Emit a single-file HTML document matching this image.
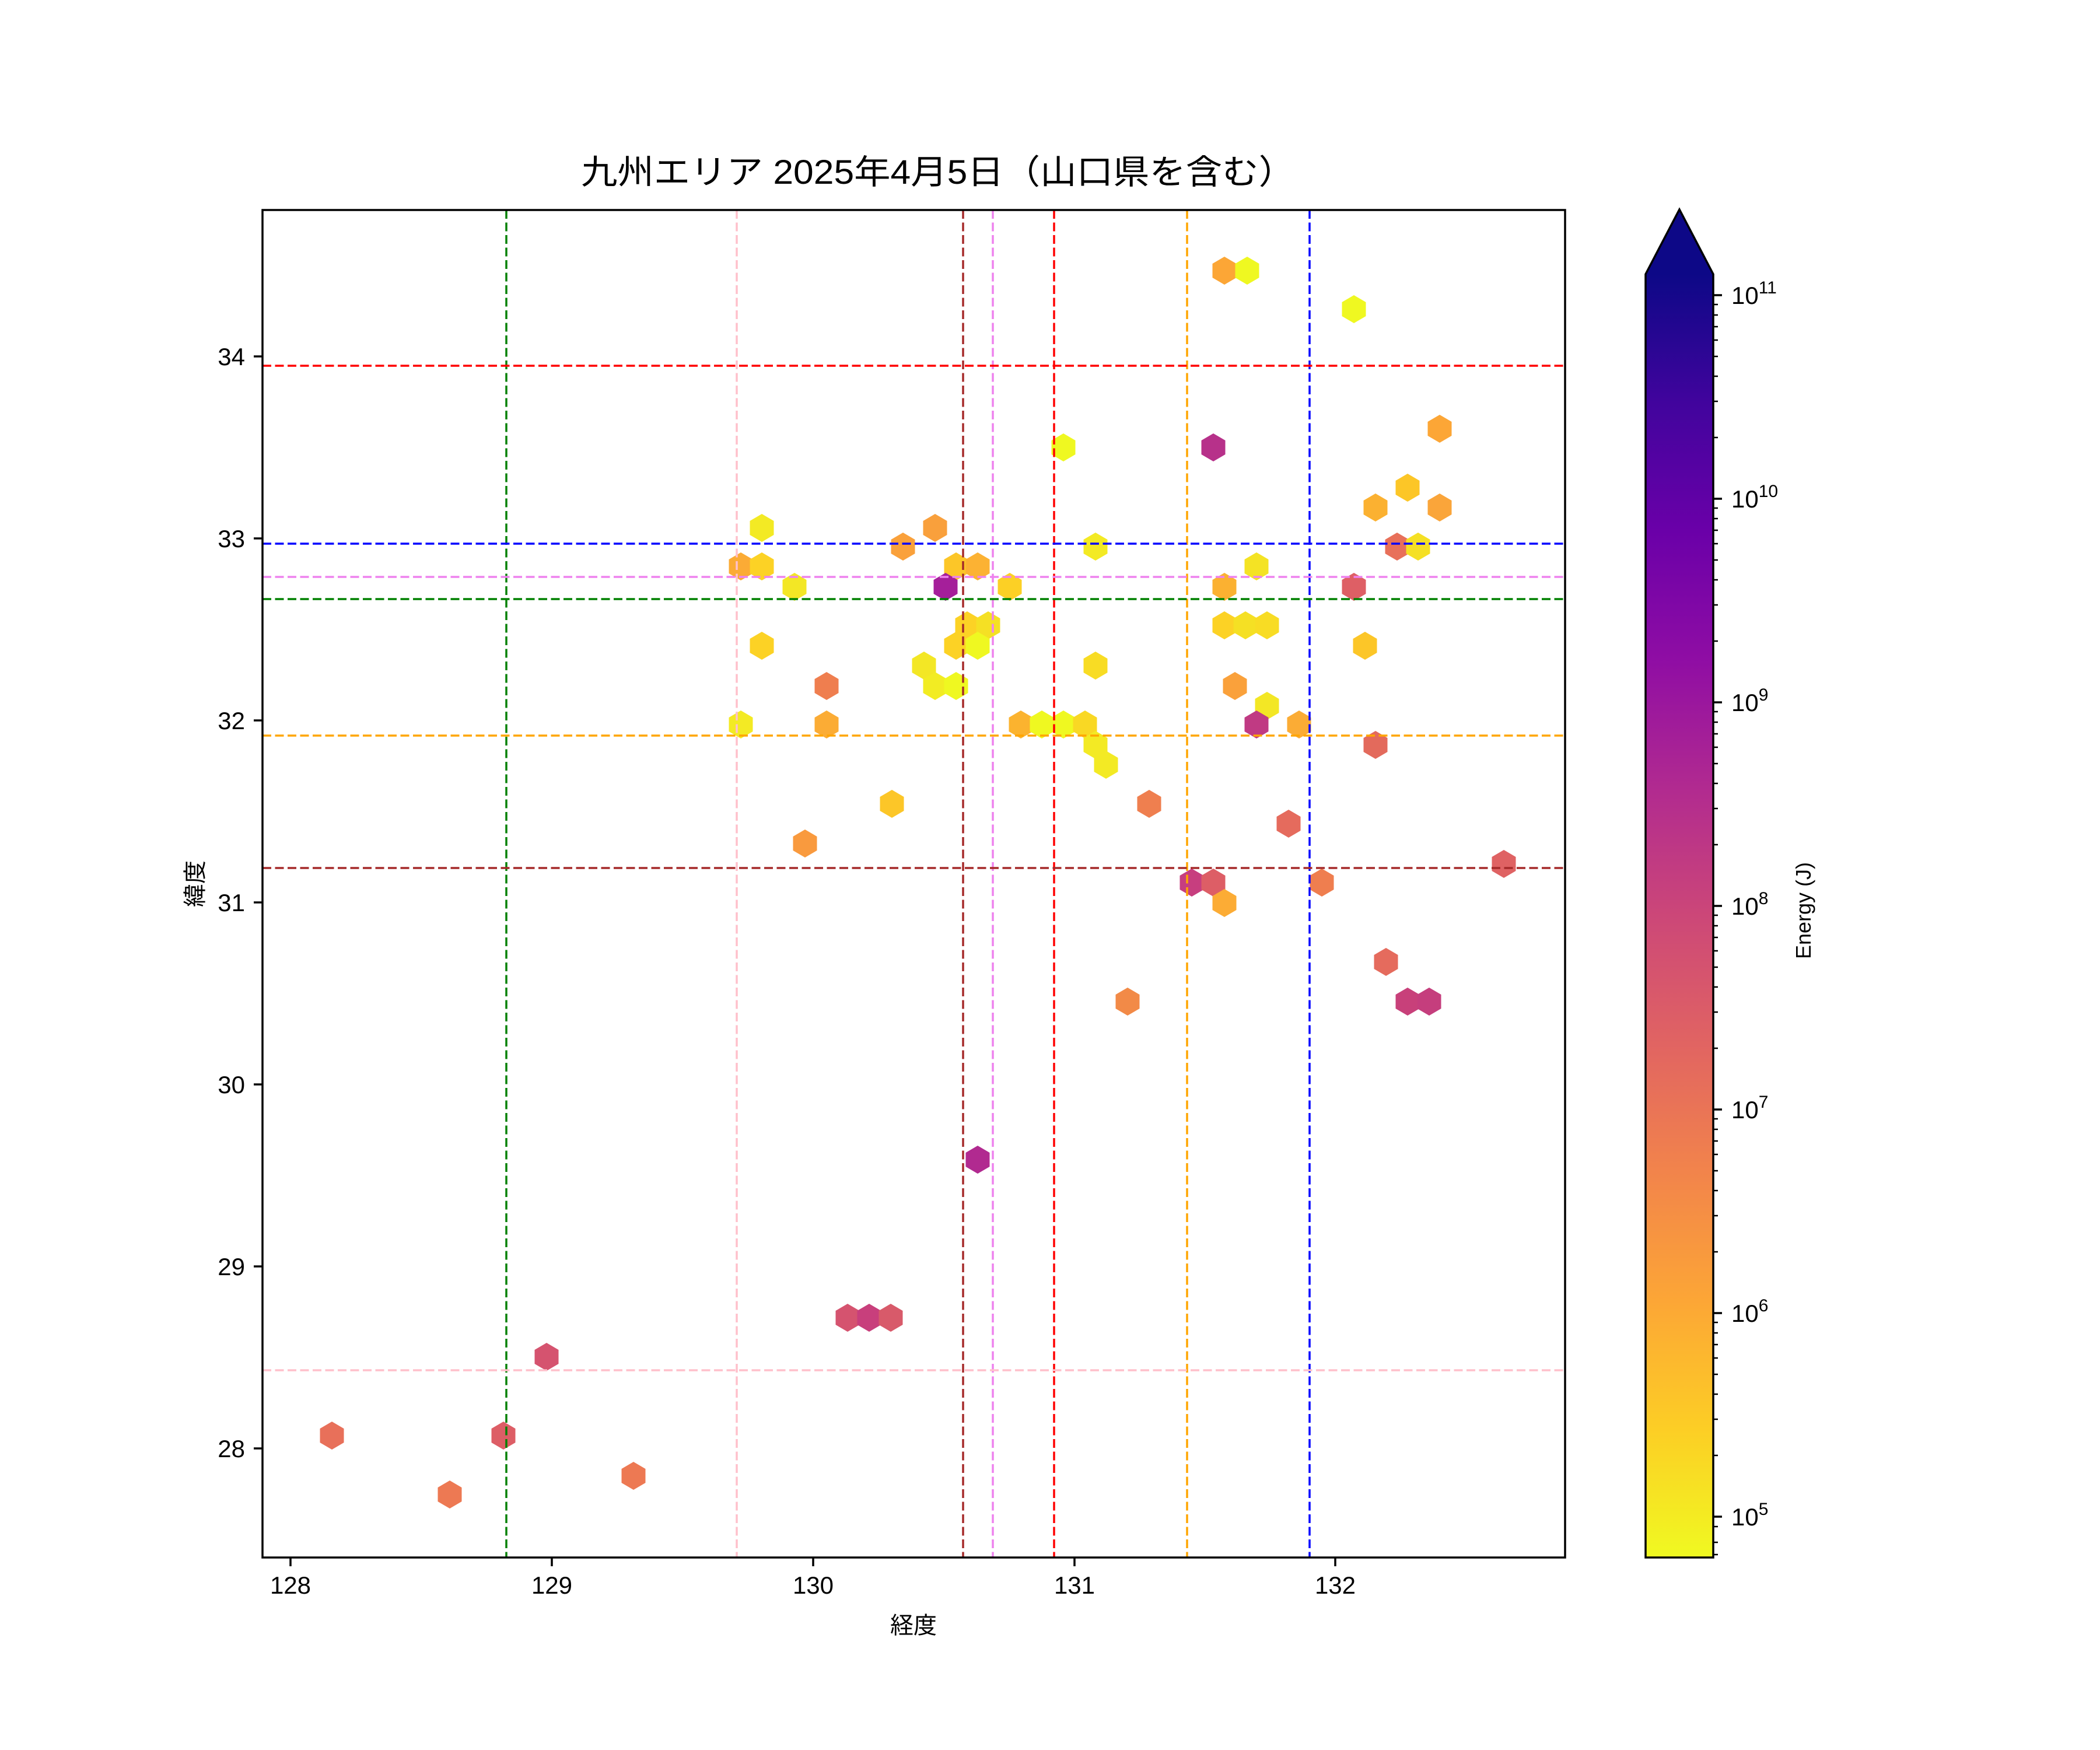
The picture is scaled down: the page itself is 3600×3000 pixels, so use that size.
<!DOCTYPE html>
<html><head><meta charset="utf-8"><style>html,body{margin:0;padding:0;background:#fff}svg{display:block}</style></head>
<body>
<svg xmlns="http://www.w3.org/2000/svg" width="3600" height="3000" viewBox="0 0 3600 3000" font-family="'Liberation Sans','Noto Sans CJK JP',sans-serif">
<defs>
<polygon id="h" points="0,-24 20.5,-12 20.5,12 0,24 -20.5,12 -20.5,-12"/>
<linearGradient id="pl" x1="0" y1="1" x2="0" y2="0">
<stop offset="0" stop-color="#f0f921"/><stop offset="0.1" stop-color="#fcce25"/><stop offset="0.2" stop-color="#fca636"/><stop offset="0.3" stop-color="#f2844b"/><stop offset="0.4" stop-color="#e16462"/><stop offset="0.5" stop-color="#cc4778"/><stop offset="0.6" stop-color="#b12a90"/><stop offset="0.7" stop-color="#8f0da4"/><stop offset="0.8" stop-color="#6a00a8"/><stop offset="0.9" stop-color="#41049d"/><stop offset="1" stop-color="#0d0887"/>
</linearGradient>
<clipPath id="cp"><rect x="450" y="360" width="2233" height="2310"/></clipPath>
</defs>
<rect width="3600" height="3000" fill="#fff"/>
<text x="996" y="315" font-size="58" textLength="1224" lengthAdjust="spacingAndGlyphs">九州エリア 2025年4月5日（山口県を含む）</text>

<g clip-path="url(#cp)">
<g>
<use href="#h" x="2099" y="464" fill="#fca636"/><use href="#h" x="2138" y="464" fill="#eff821"/>
<use href="#h" x="2321" y="530" fill="#eff821"/>
<use href="#h" x="2468" y="735" fill="#fca636"/>
<use href="#h" x="1823" y="767" fill="#eff821"/><use href="#h" x="2080" y="767" fill="#b7318a"/>
<use href="#h" x="1306" y="905" fill="#f3ea24"/><use href="#h" x="1603" y="905" fill="#f9a03c"/>
<use href="#h" x="2358" y="870" fill="#fbb131"/><use href="#h" x="2413" y="836" fill="#fcc627"/><use href="#h" x="2468" y="870" fill="#faa53a"/>
<use href="#h" x="1548" y="937" fill="#faa13b"/><use href="#h" x="1878" y="937" fill="#f3ea24"/><use href="#h" x="2395" y="937" fill="#e8705a"/><use href="#h" x="2431" y="937" fill="#f5e024"/>
<use href="#h" x="1270" y="971" fill="#fbab35"/><use href="#h" x="1306" y="971" fill="#fcd225"/><use href="#h" x="1639" y="971" fill="#fcc628"/><use href="#h" x="1676" y="971" fill="#fcb233"/><use href="#h" x="2154" y="971" fill="#f4e324"/>
<use href="#h" x="1362" y="1006" fill="#f3e725"/><use href="#h" x="1621" y="1006" fill="#a51f9a"/><use href="#h" x="1731" y="1006" fill="#fcd025"/><use href="#h" x="2099" y="1006" fill="#fbb131"/><use href="#h" x="2321" y="1006" fill="#de5f65"/>
<use href="#h" x="1658" y="1072" fill="#fcd225"/><use href="#h" x="1694" y="1072" fill="#f5e024"/><use href="#h" x="2099" y="1072" fill="#fcd225"/><use href="#h" x="2135" y="1072" fill="#f5e024"/><use href="#h" x="2172" y="1072" fill="#f8dc24"/>
<use href="#h" x="1306" y="1107" fill="#fcd225"/><use href="#h" x="1639" y="1107" fill="#fcd225"/><use href="#h" x="1676" y="1107" fill="#eff821"/><use href="#h" x="2340" y="1107" fill="#fcc628"/>
<use href="#h" x="1584" y="1141" fill="#f3e725"/><use href="#h" x="1878" y="1141" fill="#f8dc24"/>
<use href="#h" x="1417" y="1176" fill="#ef7e4f"/><use href="#h" x="1603" y="1176" fill="#f2ec23"/><use href="#h" x="1639" y="1176" fill="#eff821"/><use href="#h" x="2117" y="1176" fill="#faa13b"/>
<use href="#h" x="2172" y="1210" fill="#f3e725"/>
<use href="#h" x="1270" y="1242" fill="#f3ea24"/><use href="#h" x="1417" y="1242" fill="#fbac35"/><use href="#h" x="1750" y="1242" fill="#fbb32f"/><use href="#h" x="1786" y="1242" fill="#eff821"/><use href="#h" x="1823" y="1242" fill="#eff821"/><use href="#h" x="1860" y="1242" fill="#f9d824"/><use href="#h" x="2154" y="1242" fill="#c03a83"/><use href="#h" x="2227" y="1242" fill="#fbac35"/>
<use href="#h" x="1878" y="1277" fill="#f3ea24"/><use href="#h" x="2358" y="1277" fill="#e36a5c"/>
<use href="#h" x="1896" y="1311" fill="#f3ea24"/>
<use href="#h" x="1529" y="1378" fill="#fcc628"/><use href="#h" x="1970" y="1378" fill="#ef7f4f"/>
<use href="#h" x="1380" y="1446" fill="#f99a3e"/>
<use href="#h" x="2209" y="1412" fill="#e56b5d"/>
<use href="#h" x="2043" y="1513" fill="#c73e7f"/><use href="#h" x="2080" y="1513" fill="#dd5e66"/><use href="#h" x="2266" y="1513" fill="#ef7e4f"/>
<use href="#h" x="2578" y="1481" fill="#df6263"/>
<use href="#h" x="2099" y="1548" fill="#fcac35"/>
<use href="#h" x="2376" y="1649" fill="#e56b5d"/>
<use href="#h" x="1933" y="1717" fill="#f28a47"/><use href="#h" x="2413" y="1717" fill="#c8407a"/><use href="#h" x="2450" y="1717" fill="#c53e7d"/>
<use href="#h" x="1676" y="1988" fill="#b12a90"/>
<use href="#h" x="1453" y="2259" fill="#d5536f"/><use href="#h" x="1490" y="2259" fill="#c83f7c"/><use href="#h" x="1527" y="2259" fill="#d85a6a"/>
<use href="#h" x="937" y="2326" fill="#d5536f"/>
<use href="#h" x="569" y="2461" fill="#e8705a"/><use href="#h" x="863" y="2461" fill="#dd5e66"/>
<use href="#h" x="1086" y="2530" fill="#ed7953"/>
<use href="#h" x="771" y="2562" fill="#ed7953"/>
</g>
<g stroke-width="3.5" stroke-dasharray="15 6.5" fill="none">
<line x1="868" y1="360" x2="868" y2="2670" stroke="#008000"/>
<line x1="1263" y1="360" x2="1263" y2="2670" stroke="#ffc0cb"/>
<line x1="1651" y1="360" x2="1651" y2="2670" stroke="#a52a2a"/>
<line x1="1702" y1="360" x2="1702" y2="2670" stroke="#ee82ee"/>
<line x1="1807" y1="360" x2="1807" y2="2670" stroke="#ff0000"/>
<line x1="2035" y1="360" x2="2035" y2="2670" stroke="#ffa500"/>
<line x1="2245" y1="360" x2="2245" y2="2670" stroke="#0000ff"/>
<line x1="450" y1="627" x2="2683" y2="627" stroke="#ff0000"/>
<line x1="450" y1="932" x2="2683" y2="932" stroke="#0000ff"/>
<line x1="450" y1="989" x2="2683" y2="989" stroke="#ee82ee"/>
<line x1="450" y1="1027" x2="2683" y2="1027" stroke="#008000"/>
<line x1="450" y1="1261" x2="2683" y2="1261" stroke="#ffa500"/>
<line x1="450" y1="1488" x2="2683" y2="1488" stroke="#a52a2a"/>
<line x1="450" y1="2349" x2="2683" y2="2349" stroke="#ffc0cb"/>
</g>
</g>
<rect x="450" y="360" width="2233" height="2310" fill="none" stroke="#000" stroke-width="3.5"/>

<g stroke="#000" stroke-width="3.5">
<line x1="498" y1="2670" x2="498" y2="2685"/><line x1="946" y1="2670" x2="946" y2="2685"/><line x1="1394" y1="2670" x2="1394" y2="2685"/><line x1="1842" y1="2670" x2="1842" y2="2685"/><line x1="2289" y1="2670" x2="2289" y2="2685"/>
<line x1="435" y1="611" x2="450" y2="611"/><line x1="435" y1="923" x2="450" y2="923"/><line x1="435" y1="1235" x2="450" y2="1235"/><line x1="435" y1="1547" x2="450" y2="1547"/><line x1="435" y1="1859" x2="450" y2="1859"/><line x1="435" y1="2171" x2="450" y2="2171"/><line x1="435" y1="2483" x2="450" y2="2483"/>
</g>
<g font-size="42" text-anchor="middle">
<text x="498" y="2732">128</text><text x="946" y="2732">129</text><text x="1394" y="2732">130</text><text x="1842" y="2732">131</text><text x="2289" y="2732">132</text>
</g>
<g font-size="42" text-anchor="end">
<text x="420" y="626">34</text><text x="420" y="938">33</text><text x="420" y="1250">32</text><text x="420" y="1562">31</text><text x="420" y="1874">30</text><text x="420" y="2186">29</text><text x="420" y="2498">28</text>
</g>
<text x="1566" y="2800" font-size="40" text-anchor="middle">経度</text>
<text transform="translate(348,1515) rotate(-90)" font-size="40" text-anchor="middle">緯度</text>

<rect x="2821" y="470" width="116" height="2200" fill="url(#pl)"/>
<polygon points="2821,470 2879,359 2937,470" fill="#0d0887"/>
<polygon points="2821,2670 2821,470 2879,359 2937,470 2937,2670" fill="none" stroke="#000" stroke-width="3.5"/>
<g stroke="#000" stroke-width="3.5">
<line x1="2937" y1="2600" x2="2952" y2="2600"/><line x1="2937" y1="2251" x2="2952" y2="2251"/><line x1="2937" y1="1902" x2="2952" y2="1902"/><line x1="2937" y1="1553" x2="2952" y2="1553"/><line x1="2937" y1="1204" x2="2952" y2="1204"/><line x1="2937" y1="855" x2="2952" y2="855"/><line x1="2937" y1="506" x2="2952" y2="506"/>
</g>
<g stroke="#000" stroke-width="2.5">
<line x1="2937" y1="2665" x2="2945" y2="2665"/><line x1="2937" y1="2644" x2="2945" y2="2644"/><line x1="2937" y1="2617" x2="2945" y2="2617"/>
<line x1="2937" y1="2495" x2="2945" y2="2495"/><line x1="2937" y1="2433" x2="2945" y2="2433"/><line x1="2937" y1="2390" x2="2945" y2="2390"/><line x1="2937" y1="2356" x2="2945" y2="2356"/><line x1="2937" y1="2328" x2="2945" y2="2328"/><line x1="2937" y1="2305" x2="2945" y2="2305"/><line x1="2937" y1="2285" x2="2945" y2="2285"/><line x1="2937" y1="2267" x2="2945" y2="2267"/>
<line x1="2937" y1="2146" x2="2945" y2="2146"/><line x1="2937" y1="2084" x2="2945" y2="2084"/><line x1="2937" y1="2041" x2="2945" y2="2041"/><line x1="2937" y1="2007" x2="2945" y2="2007"/><line x1="2937" y1="1979" x2="2945" y2="1979"/><line x1="2937" y1="1956" x2="2945" y2="1956"/><line x1="2937" y1="1936" x2="2945" y2="1936"/><line x1="2937" y1="1918" x2="2945" y2="1918"/>
<line x1="2937" y1="1797" x2="2945" y2="1797"/><line x1="2937" y1="1735" x2="2945" y2="1735"/><line x1="2937" y1="1692" x2="2945" y2="1692"/><line x1="2937" y1="1658" x2="2945" y2="1658"/><line x1="2937" y1="1630" x2="2945" y2="1630"/><line x1="2937" y1="1607" x2="2945" y2="1607"/><line x1="2937" y1="1587" x2="2945" y2="1587"/><line x1="2937" y1="1569" x2="2945" y2="1569"/>
<line x1="2937" y1="1448" x2="2945" y2="1448"/><line x1="2937" y1="1386" x2="2945" y2="1386"/><line x1="2937" y1="1343" x2="2945" y2="1343"/><line x1="2937" y1="1309" x2="2945" y2="1309"/><line x1="2937" y1="1281" x2="2945" y2="1281"/><line x1="2937" y1="1258" x2="2945" y2="1258"/><line x1="2937" y1="1238" x2="2945" y2="1238"/><line x1="2937" y1="1220" x2="2945" y2="1220"/>
<line x1="2937" y1="1099" x2="2945" y2="1099"/><line x1="2937" y1="1037" x2="2945" y2="1037"/><line x1="2937" y1="994" x2="2945" y2="994"/><line x1="2937" y1="960" x2="2945" y2="960"/><line x1="2937" y1="932" x2="2945" y2="932"/><line x1="2937" y1="909" x2="2945" y2="909"/><line x1="2937" y1="889" x2="2945" y2="889"/><line x1="2937" y1="871" x2="2945" y2="871"/>
<line x1="2937" y1="750" x2="2945" y2="750"/><line x1="2937" y1="688" x2="2945" y2="688"/><line x1="2937" y1="645" x2="2945" y2="645"/><line x1="2937" y1="611" x2="2945" y2="611"/><line x1="2937" y1="583" x2="2945" y2="583"/><line x1="2937" y1="560" x2="2945" y2="560"/><line x1="2937" y1="540" x2="2945" y2="540"/><line x1="2937" y1="522" x2="2945" y2="522"/>
</g>
<g font-size="42">
<text x="2968" y="2615">10<tspan dy="-18" font-size="30">5</tspan></text>
<text x="2968" y="2266">10<tspan dy="-18" font-size="30">6</tspan></text>
<text x="2968" y="1917">10<tspan dy="-18" font-size="30">7</tspan></text>
<text x="2968" y="1568">10<tspan dy="-18" font-size="30">8</tspan></text>
<text x="2968" y="1219">10<tspan dy="-18" font-size="30">9</tspan></text>
<text x="2968" y="870">10<tspan dy="-18" font-size="30">10</tspan></text>
<text x="2968" y="521">10<tspan dy="-18" font-size="30">11</tspan></text>
</g>
<text transform="translate(3104,1561) rotate(-90)" font-size="36" text-anchor="middle">Energy (J)</text>
</svg>
</body></html>
